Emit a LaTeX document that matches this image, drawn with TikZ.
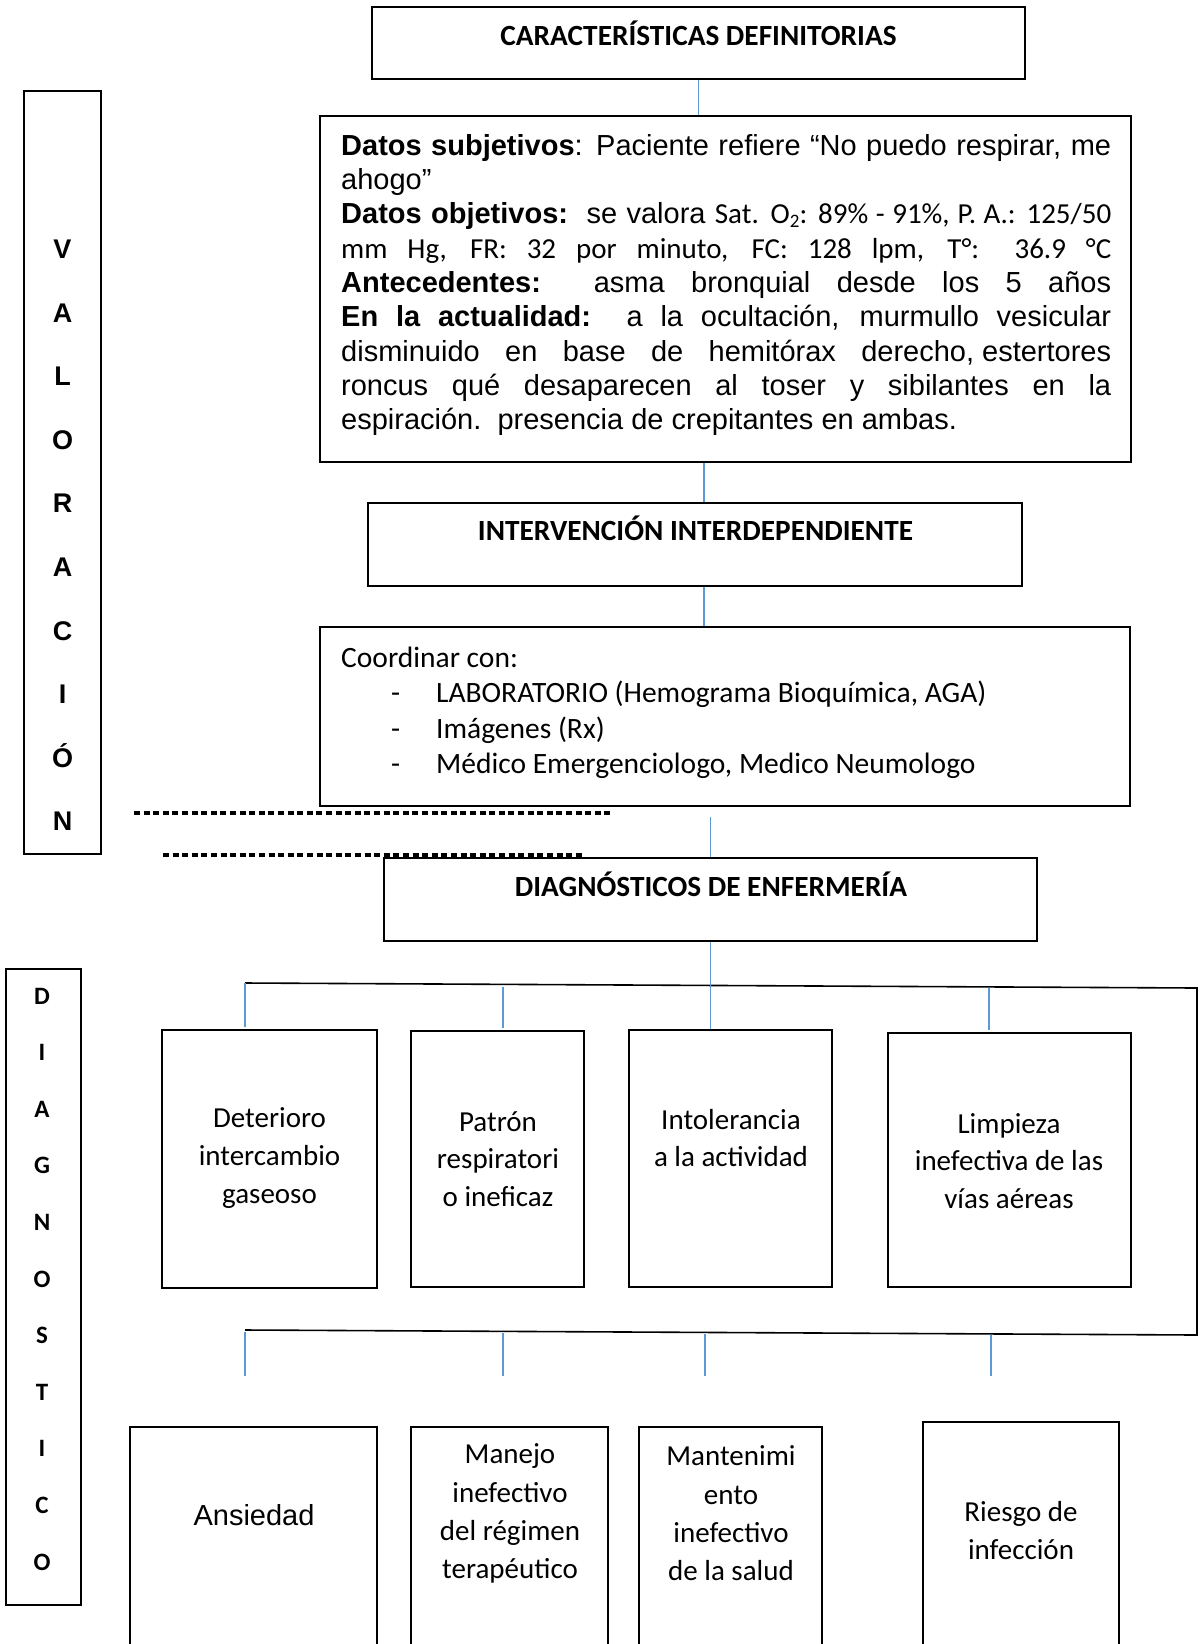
\documentclass[tikz,border=0pt]{standalone}
\usepackage{fontspec}
\setmainfont{Carlito}
\newfontfamily\arial{Liberation Sans}
\definecolor{linkblue}{RGB}{91,155,213}
% una linea justificada del recuadro de datos
\newcommand\jl[1]{\hbox to 770pt{#1}}
\newcommand\subdos{\raisebox{-4pt}{\fontsize{19}{19}\selectfont 2}}
\newcommand\guion{\hbox to 95pt{\hspace{50pt}-\hfil}}
\tikzset{
  box/.style={draw, line width=1.4, inner sep=0pt},
  conn/.style={draw=linkblue, line width=1.6},
  bline/.style={line width=1.6},
  dashrow/.style={line width=3.2, dash pattern=on 6pt off 3.6pt},
  ttl/.style={anchor=base, inner sep=0pt, font=\bfseries\fontsize{29.3}{34}\selectfont},
  lbl/.style={inner sep=0pt, align=center, font=\fontsize{29}{37.7}\selectfont},
  vletter/.style={anchor=base, inner sep=0pt, font=\arial\bfseries\fontsize{27}{30}\selectfont},
  dletter/.style={anchor=base, inner sep=0pt, font=\bfseries\fontsize{25}{28}\selectfont}
}
\begin{document}
\begin{tikzpicture}[x=1pt,y=-1pt]
  \useasboundingbox (0,0) rectangle (1202,1644);
  \clip (0,0) rectangle (1202,1644);

  % columna izquierda
  \node[box, minimum width=77, minimum height=763] (val) at (62.5,472.5) {};
  \foreach \l [count=\i from 0] in {V,A,L,O,R,A,C,I,Ó,N}
    \node[vletter] (v\i) at (62.5,258.5+63.6*\i) {\l};
  \node[box, minimum width=75, minimum height=636] (diag) at (43.5,1287) {};
  \foreach \l [count=\i from 0] in {D,I,A,G,N,O,S,T,I,C,O}
    \node[dletter] (g\i) at (42,1004+56.6*\i) {\l};

  % valoracion
  \node[box, minimum width=653, minimum height=72] (car) at (698.5,43) {};
  \node[ttl] (carT) at (698.5,45) {CARACTERÍSTICAS DEFINITORIAS};
  \node[box, minimum width=811, minimum height=346] (dat) at (725.5,289) {};
  \node[anchor=north west, inner sep=0pt,
        font=\arial\fontsize{29}{34.3}\selectfont] (datT) at (341,134) {\vbox{%
    \jl{\textbf{Datos subjetivos}: Paciente refiere “No puedo respirar, me}
    \hbox{ahogo”}
    \jl{\textbf{Datos objetivos:}\ \ se valora {\rmfamily Sat. O\subdos: 89\% - 91\%, P. A.: 125/50}}
    \jl{\rmfamily mm Hg, FR: 32 por minuto, FC: 128 lpm, T°: 36.9 °C}
    \jl{\textbf{Antecedentes:}\ \ asma bronquial desde los 5 años}
    \jl{\textbf{En la actualidad:}\ \ a la ocultación, murmullo vesicular}
    \jl{disminuido en base de hemitórax derecho,\kern8pt estertores}
    \jl{roncus qué desaparecen al toser y sibilantes en la}
    \hbox{espiración.\ \ presencia de crepitantes en ambas.}}};
  \node[box, minimum width=654, minimum height=83] (int) at (695,544.5) {};
  \node[ttl] (intT) at (695.5,540) {INTERVENCIÓN INTERDEPENDIENTE};
  \node[box, minimum width=810, minimum height=179] (coo) at (725,716.5) {};
  \node[anchor=north west, inner sep=0pt,
        font=\fontsize{29.5}{35.3}\selectfont] (cooT) at (341,647) {\vbox{%
    \hbox{Coordinar con:}
    \hbox{\guion LABORATORIO (Hemograma Bioquímica, AGA)}
    \hbox{\guion Imágenes (Rx)}
    \hbox{\guion Médico Emergenciologo, Medico Neumologo}}};

  \draw[conn] (car.south) -- (car.south |- dat.north);
  \draw[conn] ([xshift=9pt]int.north) -- ([xshift=9pt]int.north |- dat.south);
  \draw[conn] ([xshift=9pt]int.south) -- ([xshift=9pt]int.south |- coo.north);

  % separacion
  \coordinate (dl1) at (134,813);
  \coordinate (dr1) at (612,813);
  \coordinate (dl2) at (163,855);
  \coordinate (dr2) at (583,855);
  \draw[dashrow] (dl1) -- (dr1);
  \draw[dashrow] (dl2) -- (dr2);

  % diagnosticos
  \node[box, minimum width=653, minimum height=83] (dia) at (710.5,899.5) {};
  \node[ttl] (diaT) at (711,896) {DIAGNÓSTICOS DE ENFERMERÍA};
  \draw[conn] (dia.north) -- ([yshift=-10pt]dia.north |- coo.south);

  \node[box, minimum width=215, minimum height=258] (d1) at (269.5,1159) {};
  \node[box, minimum width=173, minimum height=256] (d2) at (497.5,1159) {};
  \node[box, minimum width=203, minimum height=257] (d3) at (730.5,1158.5) {};
  \node[box, minimum width=243, minimum height=254] (d4) at (1009.5,1160) {};
  \node[lbl] (d1T) at (269.5,1158) {Deterioro\\intercambio\\gaseoso};
  \node[lbl] (d2T) at (498,1159) {Patrón\\respiratori\\o ineficaz};
  \node[lbl] (d3T) at (731,1138) {Intolerancia\\a la actividad};
  \node[lbl] (d4T) at (1009,1161) {Limpieza\\inefectiva de las\\vías aéreas};

  \coordinate (bl1) at (245,983);
  \coordinate (br1) at (1197,988);
  \coordinate (br2) at (1197,1335);
  \coordinate (bl2) at (245,1330);
  \draw[bline] (bl1) -- (br1) -- (br2) -- (bl2);
  \coordinate (t2) at (503,986.5);
  \coordinate (t4) at (989,987.5);
  \draw[conn] (dia.south) -- (dia.south |- d3.north);
  \draw[conn] (bl1) -- ([yshift=2pt]bl1 |- d1.north);
  \draw[conn] (t2) -- ([yshift=2pt]t2 |- d2.north);
  \draw[conn] (t4) -- ([yshift=2pt]t4 |- d4.north);

  \foreach \n/\x/\y in {1/245/1332,2/503/1333,3/705/1334,4/991/1335} {
    \coordinate (u\n) at (\x,\y);
    \coordinate (w\n) at (\x,1376);
    \draw[conn] (u\n) -- (w\n);
  }

  \node[box, minimum width=247, minimum height=300] (a1) at (253.5,1577) {};
  \node[box, minimum width=197, minimum height=300] (a2) at (509.5,1577) {};
  \node[box, minimum width=183, minimum height=300] (a3) at (730.5,1577) {};
  \node[box, minimum width=196, minimum height=300] (a4) at (1021,1572) {};
  \node[inner sep=0pt, font=\arial\fontsize{29}{35}\selectfont] (a1T) at (254,1515) {Ansiedad};
  \node[lbl, font=\fontsize{29}{38.3}\selectfont] (a2T) at (510,1513.5) {Manejo\\inefectivo\\del régimen\\terapéutico};
  \node[lbl, font=\fontsize{29}{38.3}\selectfont] (a3T) at (731,1513.5) {Mantenimi\\ento\\inefectivo\\de la salud};
  \node[lbl, font=\fontsize{29}{38.3}\selectfont] (a4T) at (1021,1530.5) {Riesgo de\\infección};
\end{tikzpicture}
\end{document}
